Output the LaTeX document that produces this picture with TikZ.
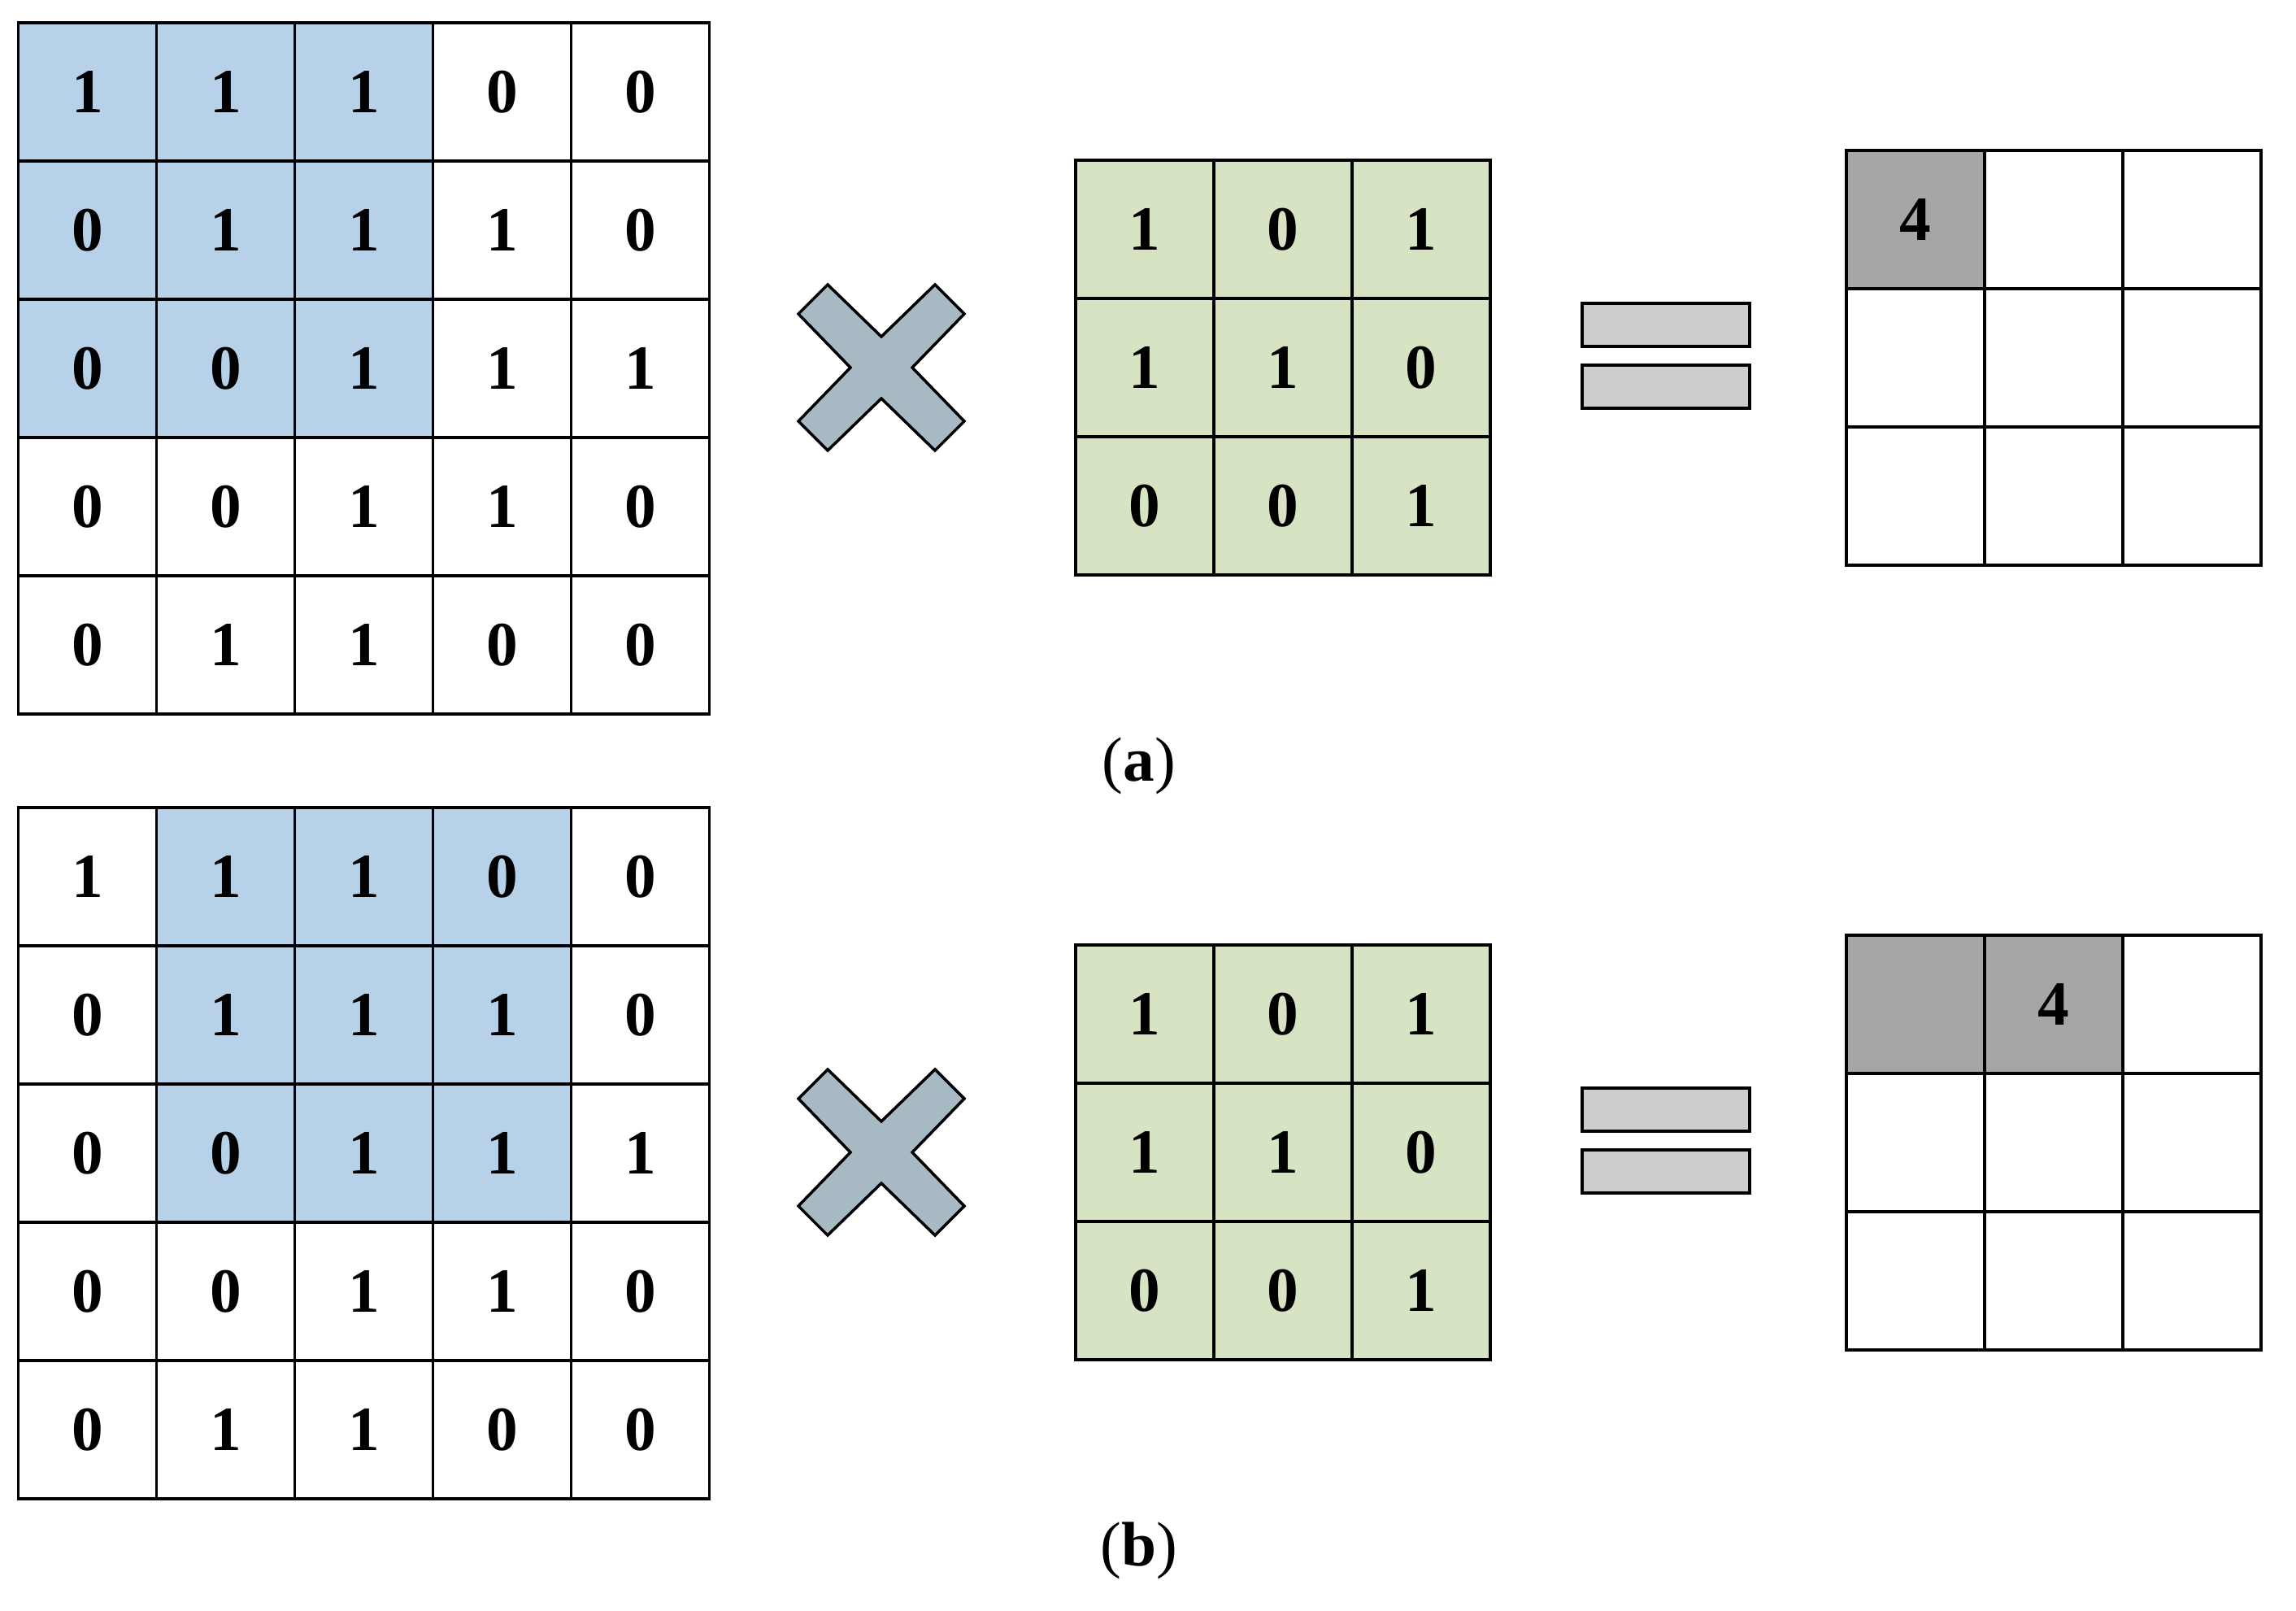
\documentclass[tikz,border=0pt]{standalone}
\usepackage{fontspec}
\setmainfont{Liberation Serif}
\usetikzlibrary{positioning}
\definecolor{cellblue}{RGB}{183,210,232}
\definecolor{cellgreen}{RGB}{215,228,196}
\definecolor{crossgray}{RGB}{167,186,195}
\definecolor{eqgray}{RGB}{204,204,204}
\definecolor{outgray}{RGB}{166,166,166}

\begin{document}
\begin{tikzpicture}[
  cell/.style={rectangle, draw, line width=1pt, minimum size=1.7cm,
               inner sep=0pt, outer sep=0pt, font=\fontsize{22}{26}\selectfont\bfseries},
  eqbar/.style={rectangle, draw, line width=1.1pt, fill=eqgray,
                minimum width=2.06cm, minimum height=0.53cm, inner sep=0pt},
  cross/.style={draw, line width=1pt, fill=crossgray},
  caption/.style={font=\fontsize{22}{26}\selectfont}
]
\useasboundingbox (0,0) rectangle (28.24,19.80);
\foreach \p/\dy/\off in {a/0/0, b/-9.65/1} {
  \begin{scope}[yshift=\dy cm]
  % input image
  \foreach \row [count=\r from 0] in {{1,1,1,0,0},{0,1,1,1,0},{0,0,1,1,1},{0,0,1,1,0},{0,1,1,0,0}} {
    \foreach \v [count=\c from 0] in \row {
      \pgfmathtruncatemacro\hl{and(\r<3, and(\c>=\off, \c<\off+3))}
      \ifnum\hl=1 \def\cellfill{cellblue}\else\def\cellfill{white}\fi
      \node[cell, fill=\cellfill] (in\p-\r-\c) at ({4.475+(\c-2)*1.7}, {15.27-(\r-2)*1.7}) {\v};
    }
  }
  % kernel
  \foreach \row [count=\r from 0] in {{1,0,1},{1,1,0},{0,0,1}} {
    \foreach \v [count=\c from 0] in \row {
      \node[cell, fill=cellgreen] (ker\p-\r-\c) at ({15.78+(\c-1)*1.7}, {15.28-(\r-1)*1.7}) {\v};
    }
  }
  % feature map
  \foreach \r in {0,1,2} {
    \foreach \c in {0,1,2} {
      \pgfmathtruncatemacro\gr{and(\r==0, \c<=\off)}
      \ifnum\gr=1 \def\cellfill{outgray}\else\def\cellfill{white}\fi
      \node[cell, fill=\cellfill] (out\p-\r-\c) at ({25.26+(\c-1)*1.7}, {15.40-(\r-1)*1.7})
        {\ifnum\r=0\relax \ifnum\c=\off\relax 4\fi\fi};
    }
  }
  % operators
  \draw[cross, shift={(10.84,15.28)}] (-0.66,1.02) -- (0,0.38) -- (0.66,1.02) -- (1.02,0.66)
    -- (0.38,0) -- (1.02,-0.66) -- (0.66,-1.02) -- (0,-0.38) -- (-0.66,-1.02)
    -- (-1.02,-0.66) -- (-0.38,0) -- (-1.02,0.66) -- cycle;
  \node[eqbar] (eq\p-top) at (20.49,15.805) {};
  \node[eqbar] (eq\p-bot) at (20.49,15.045) {};
  \node[caption] (cap\p) at (14.01,10.38) {(\textbf{\p})};
  \end{scope}
}
\end{tikzpicture}
\end{document}
